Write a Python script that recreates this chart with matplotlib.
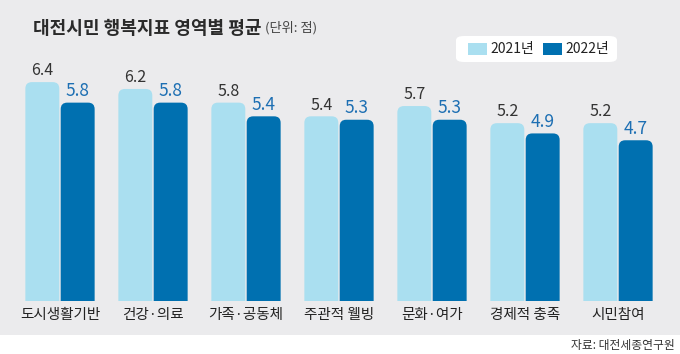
import matplotlib
matplotlib.use("Agg")
import matplotlib.pyplot as plt
from matplotlib.patches import FancyBboxPatch
import numpy as np

plt.rcParams['font.family'] = ['Noto Sans CJK KR', 'DejaVu Sans']

# data
categories = ['도시생활기반', '건강·의료', '가족·공동체', '주관적 웰빙', '문화·여가', '경제적 충족', '시민참여']
vals_2021 = [6.4, 6.2, 5.8, 5.4, 5.7, 5.2, 5.2]
vals_2022 = [5.8, 5.8, 5.4, 5.3, 5.3, 4.9, 4.7]
years = ['2021년', '2022년']

light = '#aadff0'
dark = '#0070b0'
panel = '#ebebed'

fig = plt.figure(figsize=(6.8, 3.54), dpi=100)
fig.patch.set_facecolor('white')

# grey panel behind everything except the source line
fig.patches.append(plt.Rectangle((0, 19 / 354), 1, 1, transform=fig.transFigure,
                                 facecolor=panel, edgecolor='none', zorder=-10))

ax = fig.add_axes([0, 53 / 354, 1, 231 / 354])
ax.set_facecolor('none')
ax.set_xlim(-60 / 93, 620 / 93)
ax.set_ylim(0, 231 / 34.2)
ax.axis('off')

x = np.arange(len(categories))
w = 0.365
off = 0.19
b1 = ax.bar(x - off, vals_2021, w, color=light)
b2 = ax.bar(x + off, vals_2022, w, color=dark)

# swap plain bars for ones with rounded tops
aspect = 93 / 34.2
r = 0.07
for bars in (b1, b2):
    for p in bars:
        p.set_visible(False)
        bx, by = p.get_x(), p.get_y()
        bw, bh = p.get_width(), p.get_height()
        fb = FancyBboxPatch((bx, by - 1), bw, bh + 1,
                            boxstyle=f"round,pad=0,rounding_size={r}",
                            mutation_aspect=aspect,
                            facecolor=p.get_facecolor(), edgecolor='none')
        ax.add_patch(fb)

for i in range(len(categories)):
    ax.text(x[i] - off, vals_2021[i] + 0.08, f"{vals_2021[i]:.1f}", ha='center', va='bottom',
            fontsize=11.5, color='#333333')
    ax.text(x[i] + off, vals_2022[i] + 0.08, f"{vals_2022[i]:.1f}", ha='center', va='bottom',
            fontsize=12.5, color='#1d6fb3')
    ax.text(x[i], -0.42, categories[i], ha='center', va='center', fontsize=10.5, color='#222222')

# title
fig.text(33 / 680, 1 - 28 / 354, '대전시민 행복지표 영역별 평균', fontsize=13, fontweight='bold',
         color='#2a2a2a', va='center')
fig.text(265 / 680, 1 - 28 / 354, '(단위: 점)', fontsize=9.5, color='#444444', va='center')

# legend box
lg = FancyBboxPatch((456 / 680, 1 - 62 / 354), 161 / 680, 26 / 354,
                    boxstyle="round,pad=0,rounding_size=0.012",
                    transform=fig.transFigure, facecolor='white', edgecolor='none')
fig.patches.append(lg)
for sx, tx, col, lab in [(468, 490, light, years[0]), (543, 565, dark, years[1])]:
    fig.patches.append(plt.Rectangle((sx / 680, 1 - 55 / 354), 19 / 680, 12 / 354,
                                     transform=fig.transFigure, facecolor=col, edgecolor='none'))
    fig.text(tx / 680, 1 - 49 / 354, lab, fontsize=10, color='#222222', va='center')

fig.text(675 / 680, 1 - 345 / 354, '자료: 대전세종연구원', fontsize=8.5, color='#333333',
         ha='right', va='center')

fig.savefig('out.png', dpi=100)
